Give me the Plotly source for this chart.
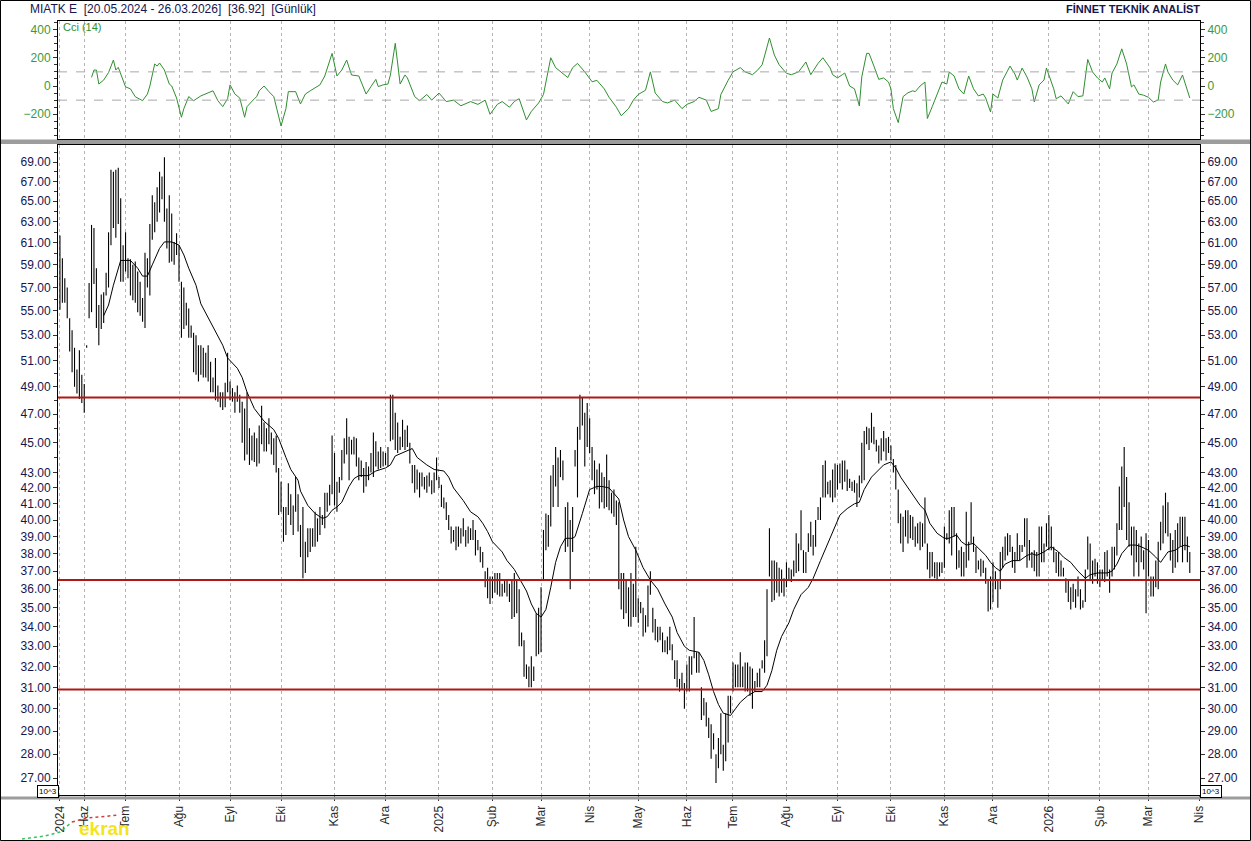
import math
import numpy as np
import pandas as pd
import plotly.graph_objects as go

# ---------------- data ----------------
TITLE_LEFT = "MIATK E  [20.05.2024 - 26.03.2026]  [36.92]  [Günlük]"
TITLE_RIGHT = "FİNNET TEKNİK ANALİST"

HOLIDAYS = ["2024-06-17", "2024-06-18", "2024-06-19", "2024-07-15", "2024-08-30",
            "2024-10-29", "2025-01-01", "2025-03-31", "2025-04-01", "2025-04-23",
            "2025-05-01", "2025-05-19", "2025-06-06", "2025-06-09", "2025-07-15",
            "2025-10-29", "2026-01-01", "2026-03-20"]

MONTHS_TR = ["Oca", "Şub", "Mar", "Nis", "May", "Haz", "Tem", "Ağu", "Eyl", "Eki", "Kas", "Ara"]

HIGH = [
    61.7, 59.6, 57.8, 57.0, 54.4, 53.4, 52.0, 50.3, 51.8, 49.9, 49.2, 52.2, 57.4, 62.7, 62.4, 58.7, 55.5, 56.4, 56.6, 58.3,
    62.0, 68.2, 68.0, 68.2, 68.4, 65.3, 60.8, 62.0, 59.6, 59.5, 59.0, 59.3, 58.4, 57.5, 56.1, 60.1, 59.6, 62.8, 65.6, 64.9,
    66.4, 68.0, 67.5, 69.5, 64.3, 65.6, 63.8, 61.1, 61.9, 60.8, 57.5, 57.0, 55.7, 55.2, 53.8, 53.2, 53.0, 52.2, 52.2, 52.0,
    51.6, 52.2, 50.9, 49.7, 51.2, 49.1, 48.6, 48.6, 49.3, 51.6, 49.4, 48.9, 48.6, 49.1, 48.4, 47.9, 47.4, 48.6, 46.0, 45.5,
    45.7, 45.3, 46.2, 47.6, 46.4, 46.0, 46.7, 45.7, 45.3, 45.5, 43.3, 42.4, 40.8, 40.8, 42.3, 41.6, 40.9, 42.7, 41.6, 39.7,
    40.8, 38.7, 39.5, 39.5, 39.5, 40.5, 40.1, 40.8, 40.3, 41.7, 41.7, 42.2, 45.5, 44.3, 42.4,
    42.7, 44.5, 45.3, 46.7, 45.4, 45.2, 45.4, 45.3, 44.0, 43.8, 43.3, 43.7, 43.4, 44.3, 45.7, 45.1, 44.4, 44.7, 44.4, 44.3,
    44.7, 48.4, 48.4, 47.1, 46.4, 45.4, 46.6, 45.9, 46.2, 45.0, 43.5, 43.5, 43.2, 43.0, 43.0, 42.7, 42.8, 43.0, 42.5, 43.0,
    44.0, 42.7, 42.2, 41.4, 41.1, 40.3, 39.6, 39.4, 39.6, 39.6, 39.5, 40.1, 39.4, 39.6, 39.5, 40.0, 39.4, 38.8, 38.4, 38.1,
    37.0, 37.2, 36.7, 36.7, 36.9, 36.9, 36.9, 36.3, 36.5, 36.5, 36.3, 36.5, 36.9, 36.5, 36.0, 33.7, 33.3, 32.1, 32.0, 32.5,
    32.0, 34.7, 35.0, 36.1, 39.4, 40.4, 40.3, 42.8, 43.5, 44.7, 44.0, 44.5, 43.8, 40.8, 41.1, 40.0, 40.8, 44.5, 46.1, 48.4,
    48.2, 47.1, 47.8, 46.7, 44.7, 43.8, 43.2, 43.6, 43.0, 42.7, 44.2, 42.5, 41.7, 41.9, 41.2,
    41.1, 36.9, 36.9, 36.5, 36.1, 36.9, 36.3, 38.4, 35.5, 35.3, 35.0, 34.6, 36.2, 37.0, 35.0, 34.4, 34.0, 34.0, 33.7, 33.3,
    33.5, 34.0, 33.1, 32.3, 32.3, 31.4, 31.7, 31.2, 32.1, 32.5, 32.5, 34.5, 32.7, 32.7, 31.0, 30.5, 30.3, 29.6, 29.3, 28.9,
    28.0, 28.7, 29.8, 28.4, 29.8, 30.6, 30.6, 32.2, 32.1, 32.1, 32.7, 32.0, 32.2, 32.2, 32.0, 31.9, 31.3, 31.7, 31.9, 32.3,
    33.3, 36.0, 39.5, 37.6, 37.6, 37.5, 37.2, 37.1, 36.6, 37.5, 37.2, 37.1, 37.6, 39.2, 38.6, 40.6, 38.2, 38.1, 39.2, 39.9,
    39.1, 40.0, 40.8, 41.4, 43.5, 43.8, 42.4, 42.5, 43.2, 43.6, 43.5, 43.6, 43.8, 43.8, 43.2, 42.6, 42.4, 42.5, 42.3, 42.8,
    45.0, 45.8, 46.1, 46.0, 47.1, 46.1, 45.2, 44.8, 45.3, 45.8, 45.3, 45.4, 44.8, 43.9, 43.5, 41.9,
    40.4, 40.2, 40.6, 40.6, 40.3, 40.2, 39.6, 39.8, 39.9, 39.8, 41.4, 38.6, 38.1, 38.1, 37.5, 37.5, 37.5, 37.5, 39.6, 39.2,
    40.6, 40.8, 40.8, 39.2, 38.2, 38.4, 38.1, 40.5, 38.7, 41.1, 39.0, 38.4, 37.6, 37.7, 37.6, 37.2, 36.5, 36.7, 37.5, 37.0,
    36.5, 38.1, 38.4, 39.0, 39.2, 39.1, 38.4, 38.1, 39.2, 38.5, 38.5, 40.1, 40.1, 38.8, 38.1, 38.2, 38.1, 39.6, 39.6, 38.6,
    39.8, 40.3, 39.6, 38.4, 38.1, 38.1, 37.6, 37.2, 36.6, 36.5, 36.1, 36.3, 36.0, 36.7, 36.0, 35.4, 37.1, 39.0, 38.6, 37.6,
    37.7, 37.5, 37.1, 37.1, 38.1, 38.2, 37.1, 38.4, 38.4, 39.8, 42.1, 43.4, 44.7, 42.7, 41.1, 39.6, 39.6, 39.4, 38.6, 39.0,
    38.2, 39.2, 38.8, 36.7, 36.7, 37.6, 38.7, 39.9, 40.9, 41.7, 41.1, 39.2, 38.8, 39.4, 39.8, 40.2, 40.2, 40.2, 39.0, 38.1,
]

LOW = [
    55.1, 55.7, 55.7, 54.4, 51.7, 50.1, 49.0, 48.5, 48.1, 47.8, 47.1, 52.0, 54.4, 54.9, 57.3, 53.6, 52.2, 53.5, 54.0, 56.3,
    57.0, 60.8, 62.4, 61.5, 62.8, 57.5, 57.5, 58.4, 57.8, 56.3, 55.9, 55.7, 54.9, 54.6, 54.1, 53.6, 57.0, 56.3, 61.3, 62.0,
    63.0, 63.9, 65.2, 63.0, 60.5, 59.2, 59.3, 59.0, 59.9, 57.5, 52.8, 53.5, 53.8, 52.8, 52.8, 50.1, 49.9, 49.4, 49.9, 49.7,
    49.7, 49.4, 48.6, 48.6, 48.0, 47.9, 47.5, 47.3, 47.5, 48.6, 48.0, 47.9, 47.1, 47.9, 47.1, 45.0, 43.8, 44.2, 43.5, 43.8,
    43.7, 43.4, 43.6, 44.9, 44.4, 44.4, 44.9, 44.2, 43.5, 43.0, 40.3, 40.5, 38.7, 39.1, 40.3, 39.7, 39.1, 40.5, 39.3, 37.8,
    36.6, 36.9, 37.8, 38.1, 38.4, 38.4, 38.7, 39.1, 39.7, 39.5, 40.5, 40.9, 41.6, 40.9, 40.5,
    41.7, 42.5, 43.6, 44.2, 42.5, 44.2, 44.2, 43.4, 42.5, 42.7, 41.7, 42.1, 42.5, 43.0, 42.7, 43.4, 43.2, 43.3, 43.4, 43.5,
    43.4, 45.1, 45.2, 44.5, 44.3, 44.5, 44.7, 44.5, 44.7, 43.6, 42.3, 41.7, 41.9, 41.4, 42.1, 41.9, 41.7, 42.1, 41.6, 41.7,
    42.5, 42.0, 40.8, 40.7, 40.0, 39.4, 38.6, 38.7, 38.2, 38.4, 38.6, 39.0, 38.4, 38.6, 38.8, 38.8, 37.9, 38.2, 37.5, 37.2,
    36.1, 35.5, 35.2, 35.5, 35.8, 35.7, 35.6, 35.6, 35.8, 35.6, 35.3, 34.4, 34.5, 34.7, 33.0, 33.0, 31.5, 31.4, 31.0, 31.0,
    31.3, 32.5, 32.6, 32.7, 36.5, 38.2, 38.4, 39.6, 40.8, 42.1, 40.8, 42.7, 42.5, 38.1, 38.4, 36.0, 38.1, 43.4, 41.4, 45.2,
    46.2, 43.4, 44.7, 44.3, 42.5, 41.6, 41.9, 40.7, 41.1, 40.7, 40.8, 40.6, 40.4, 40.2, 39.7,
    36.0, 34.9, 34.4, 34.7, 34.0, 34.0, 34.5, 34.5, 34.2, 34.7, 33.5, 33.7, 34.0, 35.7, 33.7, 33.3, 33.2, 33.3, 32.7, 32.7,
    32.6, 32.8, 32.3, 31.4, 31.0, 30.8, 30.9, 30.0, 30.8, 30.8, 31.6, 32.4, 31.7, 31.7, 29.5, 29.7, 29.2, 28.7, 27.8, 28.2,
    26.8, 27.4, 28.0, 27.3, 27.7, 28.5, 29.8, 30.8, 31.0, 31.0, 31.0, 31.0, 30.8, 30.8, 30.6, 30.0, 30.8, 31.0, 31.0, 31.9,
    31.7, 32.5, 36.7, 35.3, 35.4, 35.8, 35.6, 35.8, 35.6, 36.1, 36.5, 36.4, 36.7, 36.9, 37.0, 38.2, 36.9, 36.9, 38.1, 38.4,
    37.9, 38.4, 40.0, 40.0, 41.4, 41.4, 41.6, 41.4, 41.1, 41.4, 41.9, 42.3, 41.9, 42.4, 41.8, 42.0, 41.8, 41.7, 40.8, 41.4,
    42.3, 42.5, 44.9, 44.5, 45.0, 44.9, 44.4, 43.6, 43.8, 44.4, 43.8, 44.3, 43.8, 43.0, 41.9, 39.8,
    38.6, 38.1, 39.0, 38.6, 38.9, 38.8, 38.4, 38.6, 38.2, 38.4, 38.6, 37.1, 36.6, 36.7, 36.6, 36.5, 36.7, 36.9, 37.2, 38.8,
    38.6, 37.9, 39.0, 37.1, 37.2, 36.7, 36.7, 37.2, 37.6, 38.6, 38.1, 36.9, 37.1, 36.7, 36.9, 36.3, 34.8, 34.9, 35.3, 36.0,
    35.0, 36.0, 37.2, 37.6, 37.9, 38.1, 37.2, 36.9, 37.6, 37.6, 38.1, 38.4, 37.2, 37.6, 37.2, 37.0, 36.7, 36.7, 37.5, 37.5,
    38.4, 38.2, 38.2, 37.5, 36.9, 36.7, 36.7, 36.7, 35.8, 35.3, 34.9, 35.3, 35.0, 35.6, 34.9, 35.0, 35.3, 37.1, 36.5, 36.3,
    36.7, 36.3, 36.1, 36.5, 36.4, 36.7, 35.8, 36.7, 37.1, 37.9, 39.4, 39.4, 40.8, 38.8, 38.4, 37.9, 36.7, 37.5, 36.7, 37.5,
    37.1, 34.7, 36.7, 35.6, 35.6, 36.1, 36.0, 38.2, 38.6, 39.2, 39.0, 37.6, 36.9, 37.2, 37.5, 38.4, 37.5, 38.2, 37.5, 36.9,
]

# moving average (session number, value)
MA_SESSION = [18, 20, 22, 24, 25, 29, 32, 34, 36, 38, 41, 43, 46, 49, 51, 53, 56, 58, 61, 64, 67, 69, 73, 75, 77, 80,
              84, 88, 90, 93, 95, 98, 99, 102, 105, 108, 110, 112, 114, 116, 119, 121, 123, 127, 130, 134, 136, 138,
              142, 145, 147, 151, 154, 158, 160, 162, 166, 169, 172, 174, 176, 178, 182, 184, 187, 189, 192, 194,
              196, 198, 200, 202, 204, 206, 208, 211, 212, 215, 218, 221, 223, 226, 230, 232, 234, 237, 240, 243,
              246, 249, 252, 254, 257, 259, 263, 265, 267, 269, 271, 273, 276, 278, 280, 283, 286, 289, 291, 293,
              295, 297, 300, 302, 305, 308, 310, 313, 316, 319, 321, 324, 327, 329, 331, 334, 337, 339, 342, 344,
              346, 349, 352, 354, 356, 358, 361, 364, 366, 369, 371, 373, 376, 378, 381, 383, 385, 387, 389, 392,
              395, 398, 400, 402, 405, 408, 411, 413, 416, 419, 422, 424, 427, 431, 433, 435, 437, 440, 443, 445,
              448, 451, 453, 454, 456, 459, 461, 463, 465]
MA_VALUE = [54.6, 55.5, 57.2, 58.6, 59.4, 59.4, 58.7, 58.0, 58.0, 59.0, 60.5, 61.1, 61.1, 60.8, 59.9, 58.7, 57.2, 55.6,
            54.4, 53.3, 52.2, 51.2, 50.4, 49.7, 48.6, 47.4, 46.5, 45.9, 45.3, 44.0, 43.2, 42.5, 41.8, 40.9, 40.4, 40.1,
            40.2, 40.6, 40.8, 41.1, 42.1, 42.6, 42.8, 42.8, 43.1, 43.3, 43.5, 44.1, 44.4, 44.6, 44.0, 43.5, 43.2, 43.1,
            42.7, 42.0, 41.2, 40.5, 40.2, 39.8, 39.3, 38.7, 38.1, 37.6, 37.1, 36.6, 35.9, 35.2, 34.7, 34.5, 34.9, 36.1,
            37.5, 38.4, 38.9, 38.9, 39.0, 40.4, 41.9, 42.1, 42.1, 42.0, 41.3, 40.0, 39.0, 38.2, 37.2, 36.5, 36.0, 35.2,
            34.5, 33.7, 33.0, 32.8, 32.7, 32.3, 31.6, 30.8, 30.2, 29.8, 29.7, 30.0, 30.3, 30.6, 30.8, 30.8, 31.1, 31.8,
            32.8, 33.5, 34.2, 34.9, 35.7, 36.1, 36.6, 37.6, 38.6, 39.6, 40.3, 40.7, 41.0, 41.1, 41.9, 42.7, 43.2, 43.5,
            43.7, 43.3, 42.7, 42.0, 41.3, 40.9, 40.6, 39.8, 39.2, 38.9, 38.9, 39.1, 38.7, 38.5, 38.6, 38.3, 37.9, 37.5,
            37.2, 37.0, 37.4, 37.6, 37.6, 37.9, 38.0, 37.9, 38.1, 38.4, 38.1, 37.8, 37.5, 37.0, 36.6, 36.8, 36.9, 36.9,
            37.0, 37.4, 38.0, 38.5, 38.5, 38.4, 38.2, 37.8, 37.5, 37.7, 38.1, 38.2, 38.4, 38.5, 38.4]

# CCI(14) (session number, value)
CCI_SESSION = [13, 14, 15, 16, 18, 20, 22, 23, 24, 27, 29, 31, 34, 36, 37, 39, 40, 41, 43, 45, 46, 48, 50, 51, 53, 55,
               58, 61, 63, 65, 67, 69, 70, 72, 74, 76, 77, 80, 81, 82, 84, 86, 88, 91, 93, 94, 97, 99, 101, 103, 105,
               107, 109, 111, 112, 114, 116, 118, 120, 123, 126, 128, 130, 131, 133, 135, 136, 138, 140, 142, 143,
               146, 148, 151, 153, 156, 159, 162, 165, 169, 172, 175, 177, 180, 182, 185, 187, 189, 192, 194, 197,
               199, 201, 202, 204, 206, 209, 211, 213, 216, 219, 221, 224, 226, 229, 231, 234, 236, 238, 241, 243,
               245, 248, 250, 253, 256, 258, 261, 263, 266, 268, 271, 272, 275, 277, 280, 282, 285, 287, 289, 292,
               294, 296, 299, 301, 304, 307, 309, 312, 314, 317, 318, 320, 322, 323, 325, 327, 329, 330, 332, 333,
               335, 337, 339, 341, 342, 343, 345, 347, 349, 351, 352, 354, 356, 357, 359, 361, 363, 365, 366, 368,
               370, 372, 374, 376, 378, 380, 381, 383, 384, 386, 388, 391, 393, 394, 396, 398, 400, 401, 403, 405,
               406, 409, 410, 412, 415, 417, 419, 421, 423, 425, 427, 429, 430, 432, 433, 435, 437, 439, 441, 442,
               444, 446, 448, 450, 452, 453, 455, 456, 458, 460, 462, 465]
CCI_VALUE = [61, 113, 113, 14, 42, 95, 184, 113, 132, -6, -20, -76, -104, -57, 0, 156, 141, 163, 113, 14, 0, -85, -221,
             -160, -75, -104, -70, -48, -34, -104, -146, -90, 8, -57, -85, -221, -146, -90, -75, -34, 0, -40, -75, -283,
             -160, -40, -40, -127, -57, -34, -15, 8, 71, 184, 231, 71, 113, 184, 78, 71, -57, -4, 47, -4, 8, 14, 78,
             302, 14, 78, 57, -75, -104, -60, -100, -50, -110, -100, -140, -110, -130, -100, -200, -130, -110, -150,
             -110, -90, -240, -180, -120, -60, 130, 200, 130, 100, 60, 130, 160, 100, 30, 40, -20, -80, -150, -210,
             -160, -100, -60, -30, 100, -50, -110, -120, -100, -160, -130, -110, -80, -100, -180, -160, -60, 40, 100,
             130, 100, 80, 110, 150, 340, 220, 150, 90, 80, 100, 170, 80, 160, 200, 127, 80, 57, 80, 92, 0, -20, -141,
             64, 231, 231, 141, 47, 57, 28, -20, -160, -259, -75, -48, -34, -40, 0, 28, -230, -146, -57, 28, 14, 99,
             71, -20, -57, 71, -20, -70, -57, -85, -184, -57, -85, 42, 141, 85, 42, 127, 64, -20, -113, 8, 42, 127,
             -20, -90, -70, -127, -40, -75, -70, 188, 99, 57, 28, 57, -20, 92, 156, 263, 156, -6, 8, -57, -65, -80,
             -113, -99, 28, 156, 99, 42, 8, 78, -85]

LEVELS = [48.2, 36.5, 30.9]
PRICE_TICKS = [27, 28, 29, 30, 31, 32, 33, 34, 35, 36, 37, 38, 39, 40, 41, 42, 43, 45, 47, 49, 51, 53, 55, 57, 59,
               61, 63, 65, 67, 69]
PRICE_MINOR = [44, 46, 48, 50, 52, 54, 56, 58, 60, 62, 64, 66, 68, 70]
CCI_TICKS = [-200, 0, 200, 400]
CCI_MINOR = [-350, -300, -250, -150, -100, -50, 50, 100, 150, 250, 300, 350, 450]

# ---------------- calendar ----------------
cal = pd.bdate_range("2024-05-20", "2026-04-01")
cal = cal[~cal.isin(pd.to_datetime(HOLIDAYS))]
n = min(len(HIGH), len(LOW))
sess = np.arange(len(cal))

tickvals, ticktext = [0], [str(cal[0].year)]
for i in range(1, len(cal)):
    if cal[i].month != cal[i - 1].month:
        tickvals.append(i)
        ticktext.append(str(cal[i].year) if cal[i].month == 1 else MONTHS_TR[cal[i].month - 1])

# ---------------- geometry ----------------
W, H = 1251, 841
ML, MR, MT, MB = 58, 51, 21, 46
PW, PH = W - ML - MR, H - MT - MB


def px(x):
    return (x - ML) / PW


def py(y):
    return (H - MB - y) / PH


XR = [-0.8, 469.2]
NAVY = "#15154f"
GREEN = "#2f8f2f"
FONT = "Liberation Sans, Arial, sans-serif"

fig = go.Figure()

# OHLC-like bars
bx, by = [], []
for i in range(n):
    bx += [sess[i], sess[i], None]
    by += [LOW[i], HIGH[i], None]
fig.add_trace(go.Scatter(x=bx, y=by, mode="lines", line=dict(color="black", width=1.1),
                         xaxis="x", yaxis="y", hoverinfo="skip"))
# moving average
fig.add_trace(go.Scatter(x=MA_SESSION, y=MA_VALUE, mode="lines", line=dict(color="black", width=1),
                         xaxis="x", yaxis="y", hoverinfo="skip"))
# right duplicate price axis carrier
fig.add_trace(go.Scatter(x=[0], y=[40], mode="markers", marker=dict(opacity=0), xaxis="x", yaxis="y3",
                         hoverinfo="skip"))
# CCI
fig.add_trace(go.Scatter(x=CCI_SESSION, y=CCI_VALUE, mode="lines", line=dict(color=GREEN, width=1),
                         xaxis="x2", yaxis="y2", hoverinfo="skip"))
fig.add_trace(go.Scatter(x=[0], y=[0], mode="markers", marker=dict(opacity=0), xaxis="x2", yaxis="y4",
                         hoverinfo="skip"))

shapes = []
for lv in LEVELS:
    shapes.append(dict(type="line", xref="paper", x0=0, x1=1, yref="y", y0=lv, y1=lv,
                       line=dict(color="#b01818", width=2)))
for lv in (-100, 100):
    shapes.append(dict(type="line", xref="paper", x0=0, x1=1, yref="y2", y0=lv, y1=lv,
                       line=dict(color="#a8a8a8", width=1, dash="dash")))
# separator between panels and bottom band
shapes.append(dict(type="rect", xref="paper", yref="paper", x0=px(0), x1=px(W), y0=py(144), y1=py(139.5),
                   fillcolor="#9c9c9c", line=dict(width=0), layer="below"))
shapes.append(dict(type="line", xref="paper", yref="paper", x0=px(0), x1=px(W), y0=py(798), y1=py(798),
                   line=dict(color="#9c9c9c", width=3)))
# outer border
shapes.append(dict(type="rect", xref="paper", yref="paper", x0=px(0.5), x1=px(W - 0.5), y0=py(H - 0.5),
                   y1=py(0.5), line=dict(color="black", width=1)))
# small watermark logo strokes
shapes.append(dict(type="path", xref="paper", yref="paper",
                   path=f"M {px(22)} {py(839)} L {px(45)} {py(836)} L {px(60)} {py(832)} L {px(72)} {py(822)}",
                   line=dict(color="#3cc060", width=1.5, dash="dot")))
shapes.append(dict(type="path", xref="paper", yref="paper",
                   path=f"M {px(72)} {py(822)} L {px(86)} {py(818)} L {px(100)} {py(817)} L {px(118)} {py(815)}",
                   line=dict(color="#d04040", width=1.5, dash="dot")))

annotations = [
    dict(text=TITLE_LEFT, xref="paper", yref="paper", x=px(28), y=py(9), xanchor="left", yanchor="middle",
         showarrow=False, font=dict(family=FONT, size=12, color=NAVY)),
    dict(text="<b>" + TITLE_RIGHT + "</b>", xref="paper", yref="paper", x=px(1202), y=py(9), xanchor="right",
         yanchor="middle", showarrow=False, font=dict(family=FONT, size=11, color=NAVY)),
    dict(text="Cci (14)", xref="paper", yref="paper", x=px(61), y=py(27), xanchor="left", yanchor="middle",
         showarrow=False, font=dict(family=FONT, size=11, color=GREEN)),
    dict(text="10^3", xref="paper", yref="paper", x=px(48), y=py(791), xanchor="center", yanchor="middle",
         showarrow=False, font=dict(family=FONT, size=8, color="black"), bordercolor="black", borderwidth=1,
         borderpad=1, bgcolor="white"),
    dict(text="10^3", xref="paper", yref="paper", x=px(1211), y=py(791), xanchor="center", yanchor="middle",
         showarrow=False, font=dict(family=FONT, size=8, color="black"), bordercolor="black", borderwidth=1,
         borderpad=1, bgcolor="white"),
    dict(text="<b>ekran</b>", xref="paper", yref="paper", x=px(77), y=py(828), xanchor="left", yanchor="middle",
         showarrow=False, font=dict(family=FONT, size=19, color="#f4e41c")),
]

xcommon = dict(range=XR, tickmode="array", tickvals=tickvals, showgrid=True, gridcolor="#b4b4b4",
               griddash="dot", gridwidth=1, zeroline=False, showline=True, linecolor="black", linewidth=1,
               mirror=True, automargin=False)
ycommon = dict(showgrid=False, zeroline=False, showline=True, linecolor="black", linewidth=1, ticks="outside",
               ticklen=4, tickcolor="#333333", automargin=False)

log_range = [math.log10(26.31), math.log10(70.82)]
fig.update_layout(
    width=W, height=H, margin=dict(l=ML, r=MR, t=MT, b=MB, autoexpand=False),
    paper_bgcolor="white", plot_bgcolor="white", showlegend=False,
    font=dict(family=FONT),
    xaxis=dict(**xcommon, anchor="y", ticktext=ticktext, tickangle=-90, ticks="outside", ticklen=5,
               tickcolor="#333333", tickfont=dict(family=FONT, size=12, color="#2a2a2a")),
    xaxis2=dict(**xcommon, anchor="y2", matches="x", showticklabels=False),
    yaxis=dict(**ycommon, domain=[0, py(145)], type="log", range=log_range, tickmode="array",
               tickvals=PRICE_TICKS, ticktext=[f"{v:.2f}" for v in PRICE_TICKS],
               tickfont=dict(family=FONT, size=12, color=NAVY), side="left", anchor="x",
               minor=dict(tickmode="array", tickvals=PRICE_MINOR, ticks="outside", ticklen=3,
                          tickcolor="#333333")),
    yaxis3=dict(**ycommon, type="log", range=log_range, tickmode="array", tickvals=PRICE_TICKS,
                ticktext=[f"{v:.2f}" for v in PRICE_TICKS], tickfont=dict(family=FONT, size=12, color=NAVY),
                side="right", overlaying="y", anchor="x",
                minor=dict(tickmode="array", tickvals=PRICE_MINOR, ticks="outside", ticklen=3,
                           tickcolor="#333333")),
    yaxis2=dict(**ycommon, domain=[py(139), 1], range=[-375, 460], tickmode="array", tickvals=CCI_TICKS,
                tickfont=dict(family=FONT, size=12, color="#3a9a3a"), side="left", anchor="x2",
                minor=dict(tickmode="array", tickvals=CCI_MINOR, ticks="outside", ticklen=3,
                           tickcolor="#333333")),
    yaxis4=dict(**ycommon, range=[-375, 460], tickmode="array", tickvals=CCI_TICKS,
                tickfont=dict(family=FONT, size=12, color="#3a9a3a"), side="right", overlaying="y2",
                anchor="x2",
                minor=dict(tickmode="array", tickvals=CCI_MINOR, ticks="outside", ticklen=3,
                           tickcolor="#333333")),
    shapes=shapes, annotations=annotations,
)

fig.write_html("out.html", config={"displayModeBar": False},
               post_script="document.body.style.margin='0px';document.body.style.padding='0px';")
